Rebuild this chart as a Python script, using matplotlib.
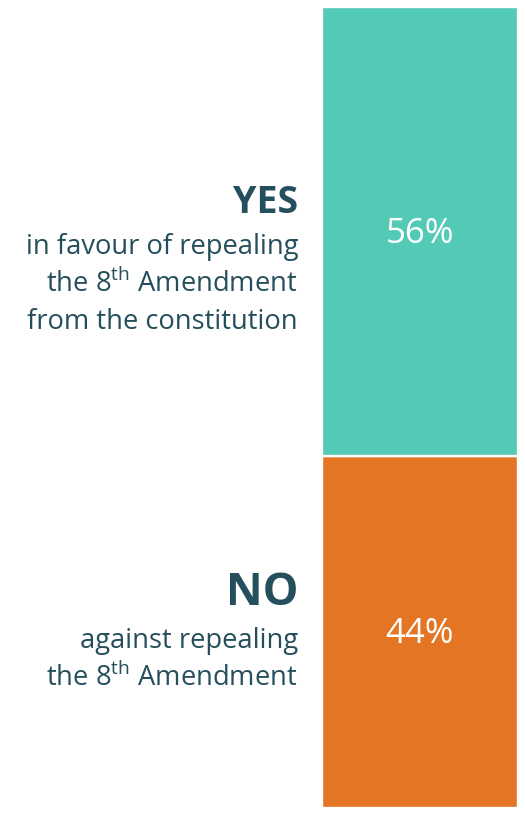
import matplotlib.pyplot as plt

plt.rcParams['font.family'] = ['Open Sans', 'DejaVu Sans']
plt.rcParams['mathtext.fontset'] = 'custom'
plt.rcParams['mathtext.rm'] = 'Open Sans'

labels = ['NO', 'YES']
values = [44, 56]
colors = ['#E47524', '#53CAB5']
headers = ['NO', 'YES']
descriptions = [
    ['against repealing', r'the 8$^{\mathrm{th}}$ Amendment'],
    ['in favour of repealing', r'the 8$^{\mathrm{th}}$ Amendment', 'from the constitution'],
]
text_col = '#254F5C'

W, H = 525, 815
fig = plt.figure(figsize=(W / 100, H / 100), dpi=100)
ax = fig.add_axes([322 / W, 7 / H, 196 / W, 801 / H])

bottom = 0
for lab, v, c in zip(labels, values, colors):
    ax.bar(0, v, width=1, bottom=bottom, color=c, edgecolor='white', linewidth=1.7)
    ax.text(0, bottom + v / 2 - 0.3, f'{v}%', ha='center', va='center',
            color='white', fontsize=25)
    bottom += v
ax.set_xlim(-0.5, 0.5)
ax.set_ylim(0, 100)
ax.axis('off')

def px(x, y):
    return x / W, 1 - y / H

# header / description positions (pixel baselines)
head_y = {'YES': 213, 'NO': 605}
head_size = {'YES': 27, 'NO': 32.5}
line_y0 = {'YES': 254, 'NO': 648}
for h, desc in zip(headers, descriptions):
    fig.text(*px(298, head_y[h]), h, ha='right', va='baseline',
             fontsize=head_size[h], fontweight='bold', color=text_col)
    for i, line in enumerate(desc):
        fig.text(*px(298, line_y0[h] + i * 37.5), line, ha='right', va='baseline',
                 fontsize=19.7, color=text_col)

fig.savefig('out.png', dpi=100)
